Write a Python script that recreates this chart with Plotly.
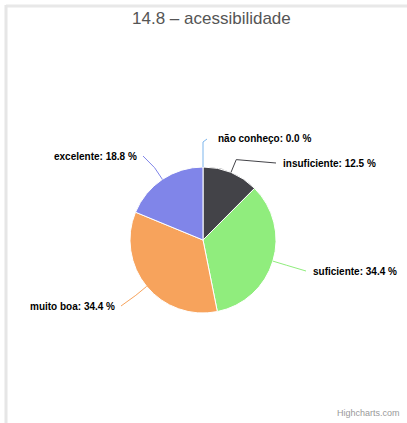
import math
import plotly.graph_objects as go

# ---- data ----
categories = ["não conheço", "insuficiente", "suficiente", "muito boa", "excelente"]
values = [0.0, 12.5, 34.4, 34.4, 18.8]
colors = ["#7cb5ec", "#434348", "#90ed7d", "#f7a35c", "#8085e9"]
title_text = "14.8 – acessibilidade"

# ---- layout (pixels) ----
W, H = 407, 423
CX, CY, R = 203, 240, 73
# label anchor points (end of connector), side of text, gap to text
label_anchor = [(207, 139, "left", 9), (276, 163, "left", 5), (306, 271, "left", 5),
                (121, 306, "right", 4), (143, 156, "right", 4)]
BEND = 14


def px(x):
    return x / W


def py(y):
    return 1 - y / H


fig = go.Figure(go.Pie(
    labels=categories, values=values, sort=False, direction="clockwise", rotation=0,
    marker=dict(colors=colors, line=dict(color="#ffffff", width=1)),
    textinfo="none", hoverinfo="label+percent", showlegend=False,
    domain=dict(x=[px(CX - R), px(CX + R)], y=[py(CY + R), py(CY - R)]),
))

shapes = []
annotations = []
total = sum(values)
cum = 0.0
for cat, v, col, (ax, ay, side, gap) in zip(categories, values, colors, label_anchor):
    mid = (cum + v / 2) / total * 2 * math.pi
    cum += v
    ex, ey = CX + R * math.sin(mid), CY - R * math.cos(mid)
    bx, by = CX + (R + BEND) * math.sin(mid), CY - (R + BEND) * math.cos(mid)
    if v == 0:
        bx, by = ex, ay + 3
    path = f"M {px(ex)},{py(ey)} L {px(bx)},{py(by)} L {px(ax)},{py(ay)}"
    shapes.append(dict(type="path", xref="paper", yref="paper", path=path,
                       line=dict(color=col, width=1)))
    annotations.append(dict(
        x=px(ax + (gap if side == "left" else -gap)), y=py(ay), xref="paper", yref="paper",
        xanchor=side, yanchor="middle", showarrow=False,
        text=f"<b>{cat}: {v:.1f} %</b>",
        font=dict(family="Liberation Sans, Arial", size=10, color="#000000")))

# frame lines
shapes.append(dict(type="line", xref="paper", yref="paper", x0=px(6), x1=px(W + 5),
                   y0=py(6), y1=py(6), line=dict(color="#e8e8e8", width=3)))
shapes.append(dict(type="line", xref="paper", yref="paper", x0=px(6), x1=px(6),
                   y0=py(5), y1=py(H + 5), line=dict(color="#e6e6e6", width=3)))

annotations.append(dict(x=px(211), y=py(19), xref="paper", yref="paper",
                        xanchor="center", yanchor="middle", showarrow=False,
                        text=title_text,
                        font=dict(family="Liberation Sans, Arial", size=17, color="#555555")))
annotations.append(dict(x=px(402), y=py(413), xref="paper", yref="paper",
                        xanchor="right", yanchor="middle", showarrow=False,
                        text="Highcharts.com",
                        font=dict(family="Liberation Sans, Arial", size=9, color="#999999")))

fig.update_layout(width=W, height=H, margin=dict(l=0, r=0, t=0, b=0),
                  paper_bgcolor="#ffffff", plot_bgcolor="#ffffff",
                  shapes=shapes, annotations=annotations)

fig.write_html("out.html", config={"displayModeBar": False},
               post_script="document.body.style.margin='0';document.body.style.overflow='hidden';")
